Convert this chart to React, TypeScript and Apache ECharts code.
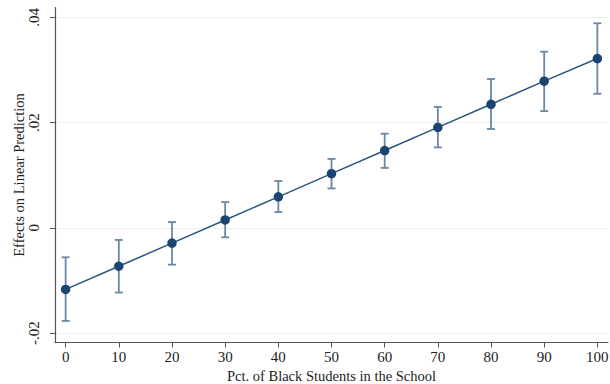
import React, { useEffect, useRef } from "react";
import * as echarts from "echarts";

const xValues = [0, 10, 20, 30, 40, 50, 60, 70, 80, 90, 100];
const estimates = [-0.0117, -0.0073, -0.0029, 0.0015, 0.0059, 0.0103, 0.0147, 0.0191, 0.0235, 0.0279, 0.0322];
const lowerCI = [-0.0177, -0.0123, -0.007, -0.0018, 0.003, 0.0075, 0.0114, 0.0153, 0.0188, 0.0222, 0.0255];
const upperCI = [-0.0056, -0.0023, 0.0011, 0.0049, 0.0089, 0.0131, 0.0179, 0.023, 0.0283, 0.0335, 0.0389];
const xTicks = [0, 10, 20, 30, 40, 50, 60, 70, 80, 90, 100];
const yTicks = [-0.02, 0, 0.02, 0.04];
const yTickLabels = ["-.02", "0", ".02", ".04"];

const FONT = "Liberation Serif";

export default function App() {
  const ref = useRef<HTMLDivElement>(null);
  useEffect(() => {
    if (!ref.current) return;
    const chart = echarts.init(ref.current, null, { renderer: "svg" });
    const errData = xValues.map((x, i) => [x, lowerCI[i], upperCI[i]]);
    chart.setOption({
      animation: false,
      backgroundColor: "#ffffff",
      grid: { left: 55, right: 2, top: 7.5, bottom: 41.5, containLabel: false, outerBoundsMode: "none" },
      xAxis: {
        type: "value",
        min: -2,
        max: 102,
        name: "Pct. of Black Students in the School",
        nameLocation: "middle",
        nameGap: 26,
        nameMoveOverlap: false,
        nameTextStyle: { fontFamily: FONT, fontSize: 14.5, color: "#222" },
        axisLine: { onZero: false, lineStyle: { color: "#555", width: 1.2 } },
        axisTick: { show: true, length: 5, customValues: xTicks, lineStyle: { color: "#555" } },
        axisLabel: {
          customValues: xTicks,
          margin: 7,
          fontFamily: FONT,
          fontSize: 15,
          color: "#222",
        },
        splitLine: { show: false },
      },
      yAxis: {
        type: "value",
        min: -0.0218,
        max: 0.0419,
        name: "Effects on Linear Prediction",
        nameLocation: "middle",
        nameRotate: 90,
        nameGap: 29,
        nameMoveOverlap: false,
        nameTextStyle: { fontFamily: FONT, fontSize: 14.5, color: "#222" },
        axisLine: { show: true, onZero: false, lineStyle: { color: "#555", width: 1.2 } },
        axisTick: { show: true, length: 5, customValues: yTicks, lineStyle: { color: "#555" } },
        axisLabel: {
          customValues: yTicks,
          rotate: 90,
          margin: 14,
          fontFamily: FONT,
          fontSize: 15,
          color: "#222",
          formatter: (v: number) => {
            const idx = yTicks.findIndex((t) => Math.abs(t - v) < 1e-9);
            return idx >= 0 ? yTickLabels[idx] : "";
          },
        },
        splitLine: { show: true, lineStyle: { color: "#e8f0f2", width: 1.2 } },
      },
      series: [
        {
          type: "custom",
          z: 2,
          data: errData,
          renderItem: (params: any, api: any) => {
            const x = api.value(0);
            const lo = api.coord([x, api.value(1)]);
            const hi = api.coord([x, api.value(2)]);
            const cap = 4;
            const style = { stroke: "#6a87a6", lineWidth: 1.8 };
            return {
              type: "group",
              children: [
                { type: "line", shape: { x1: lo[0], y1: lo[1], x2: hi[0], y2: hi[1] }, style },
                { type: "line", shape: { x1: lo[0] - cap, y1: lo[1], x2: lo[0] + cap, y2: lo[1] }, style },
                { type: "line", shape: { x1: hi[0] - cap, y1: hi[1], x2: hi[0] + cap, y2: hi[1] }, style },
              ],
            };
          },
        },
        {
          type: "line",
          z: 3,
          data: xValues.map((x, i) => [x, estimates[i]]),
          symbol: "circle",
          symbolSize: 9.5,
          itemStyle: { color: "#1b4470" },
          lineStyle: { color: "#2c557e", width: 1.5 },
        },
      ],
    });
    return () => chart.dispose();
  }, []);
  return (
    <div
      ref={ref}
      style={{ position: "fixed", left: 0, top: 0, width: 610, height: 384 }}
    />
  );
}
